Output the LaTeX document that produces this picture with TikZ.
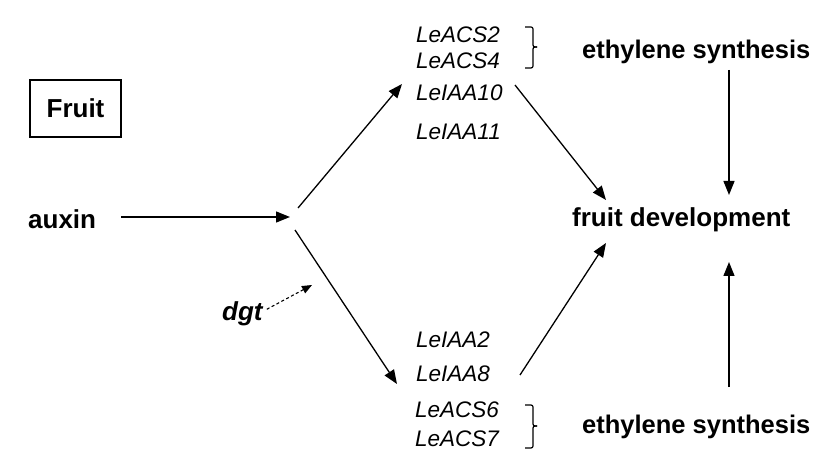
\documentclass[tikz,border=0pt]{standalone}
\usepackage{fontspec}
\setmainfont{Liberation Sans}
\usetikzlibrary{arrows.meta}

\begin{document}
\begin{tikzpicture}[x=1pt,y=-1pt,
  lbl/.style={font=\fontsize{26}{30}\selectfont\bfseries,inner sep=0pt,anchor=base west},
  gene/.style={font=\fontsize{22.5}{27}\selectfont\itshape,inner sep=0pt,anchor=base west},
  arr/.style={line width=1.3pt,-{Triangle[length=14pt,width=11pt]}},
  brc/.style={line width=1.2pt,rounded corners=2pt}]
  \useasboundingbox (0,0) rectangle (815,468);
  \node[draw,line width=1.6pt,minimum width=91pt,minimum height=57pt,
    font=\fontsize{26}{30}\selectfont\bfseries] (fruit) at (75.5,108.5) {Fruit};
  \node[lbl] (auxin) at (28,229) {auxin};
  \node[lbl] (dev) at (572,227) {fruit development};
  \node[lbl,font=\fontsize{25.5}{30}\selectfont\bfseries] (ethup) at (582,59) {ethylene synthesis};
  \node[lbl,font=\fontsize{25.5}{30}\selectfont\bfseries] (ethdn) at (582,433) {ethylene synthesis};
  \node[lbl,font=\fontsize{26}{30}\selectfont\bfseries\itshape] (dgt) at (222,320) {dgt};
  % genes, upper branch
  \node[gene] (acs2) at (416,43) {LeACS2};
  \node[gene] (acs4) at (416,69) {LeACS4};
  \node[gene] (iaa10) at (416,101) {LeIAA10};
  \node[gene] (iaa11) at (416,140) {LeIAA11};
  % genes, lower branch
  \node[gene] (iaa2) at (416,347) {LeIAA2};
  \node[gene] (iaa8) at (416,381) {LeIAA8};
  \node[gene] (acs6) at (415,417) {LeACS6};
  \node[gene] (acs7) at (415,446) {LeACS7};
  \draw[brc] (525,27) -- (533,27) -- (533,47) -- (537,47);
  \draw[brc] (537,47) -- (533,47) -- (533,68) -- (525,68);
  \draw[brc] (525,405) -- (533,405) -- (533,426) -- (537,426);
  \draw[brc] (537,426) -- (533,426) -- (533,448) -- (525,448);
  \coordinate (hub) at (290,217);
  \coordinate (uptip) at (402,84);
  \coordinate (lowtip) at (397,384);
  \coordinate (dgttip) at (312,285);
  \coordinate (upgene) at (515,85);
  \coordinate (lowgene) at (520,375);
  \coordinate (devup) at (606,200);
  \coordinate (devlow) at (606,243);
  \coordinate (ethupend) at (729,70);
  \coordinate (ethdnend) at (729,387);
  \coordinate (devtop) at (729,195);
  \coordinate (devbot) at (729,262);
  \draw[arr] ([xshift=25pt]auxin.east |- hub) -- (hub);
  \draw[arr] ([shift={(8,-9)}]hub) -- (uptip);
  \draw[arr] ([shift={(5,13)}]hub) -- (lowtip);
  \draw[line width=1.1pt,dash pattern=on 3pt off 2.5pt,-{Triangle[length=10pt,width=8pt]}]
    ([shift={(4,-4)}]dgt.east) -- (dgttip);
  \draw[arr] (upgene) -- (devup);
  \draw[arr] (lowgene) -- (devlow);
  \draw[arr] (ethupend) -- (devtop);
  \draw[arr] (ethdnend) -- (devbot);
\end{tikzpicture}
\end{document}
